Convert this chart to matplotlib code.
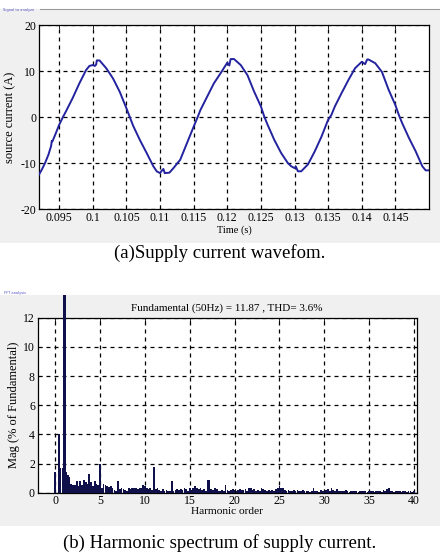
import numpy as np
import matplotlib
matplotlib.use("Agg")
import matplotlib.pyplot as plt
from matplotlib.patches import Rectangle

plt.rcParams["axes.unicode_minus"] = False

# ---------------- data ----------------
# (a) supply current waveform
time_s = [0.0920, 0.0924, 0.0929, 0.0934, 0.0938, 0.0939, 0.0940, 0.0944, 0.0950,
          0.0956, 0.0960, 0.0970, 0.0980, 0.0990, 0.0995, 0.1000, 0.1003, 0.1005,
          0.1006, 0.1010, 0.1020, 0.1030, 0.1040, 0.1050, 0.1055, 0.1060, 0.1070,
          0.1080, 0.1090, 0.1095, 0.1100, 0.1103, 0.1105, 0.1107, 0.1114, 0.1120,
          0.1130, 0.1140, 0.1150, 0.1156, 0.1160, 0.1170, 0.1180, 0.1190, 0.1200,
          0.1203, 0.1205, 0.1210, 0.1220, 0.1230, 0.1240, 0.1250, 0.1255, 0.1260,
          0.1270, 0.1280, 0.1290, 0.1295, 0.1300, 0.1302, 0.1305, 0.1310, 0.1320,
          0.1330, 0.1340, 0.1350, 0.1355, 0.1360, 0.1370, 0.1380, 0.1390, 0.1400,
          0.1405, 0.1408, 0.1410, 0.1420, 0.1430, 0.1440, 0.1450, 0.1455, 0.1460,
          0.1470, 0.1480, 0.1490, 0.1495, 0.1500]
current_a = [-12.5, -11.5, -10.0, -8.2, -6.3, -5.2, -5.3, -3.9, -1.7,
             0.1, 1.2, 4.1, 7.3, 10.2, 11.1, 11.3, 11.1, 11.4,
             12.3, 12.3, 10.6, 8.4, 5.5, 1.9, 0.0, -1.9, -5.0,
             -7.8, -10.7, -11.8, -12.2, -11.6, -11.3, -12.2, -12.1, -11.1,
             -9.3, -5.7, -2.1, 0.0, 1.5, 4.4, 7.3, 9.5, 11.8,
             11.2, 12.6, 12.6, 11.3, 9.1, 5.5, 2.3, 0.1, -1.7,
             -5.0, -7.8, -10.0, -10.7, -11.1, -10.8, -11.8, -11.8, -10.3,
             -7.5, -4.3, -0.6, 0.5, 2.3, 5.2, 8.0, 10.6, 12.0,
             11.5, 12.5, 12.5, 11.7, 9.8, 5.9, 2.6, 0.5, -1.3,
             -4.5, -7.4, -10.7, -11.6, -11.6]
time_ticks = [0.095, 0.1, 0.105, 0.11, 0.115, 0.12, 0.125, 0.13, 0.135, 0.14, 0.145]
time_tick_labels = ["0.095", "0.1", "0.105", "0.11", "0.115", "0.12", "0.125",
                    "0.13", "0.135", "0.14", "0.145"]
current_ticks = [-20, -10, 0, 10, 20]

# (b) harmonic spectrum (% of fundamental), bins every 0.2 harmonic order
bin_step = 0.2
magnitude = [
    1.45, 0.00, 4.05, 1.70, 1.70, 100.0, 1.40, 1.20, 1.10, 0.60,   # 0.0-1.8
    0.50, 0.55, 0.80, 0.45, 0.80, 0.55, 0.90, 0.70, 0.60, 1.25,    # 2.0-3.8
    0.70, 0.45, 0.80, 0.60, 0.55, 1.98, 0.35, 0.60, 0.55, 0.45,    # 4.0-5.8
    0.40, 0.45, 0.30, 0.20, 0.15, 0.80, 0.25, 0.30, 0.25, 0.20,    # 6.0-7.8
    0.15, 0.30, 0.25, 0.30, 0.35, 0.30, 0.25, 0.35, 0.30, 0.55,    # 8.0-9.8
    0.45, 0.30, 0.25, 0.30, 0.20, 1.78, 0.25, 0.30, 0.20, 0.15,    # 10.0-11.8
    0.25, 0.10, 0.20, 0.15, 0.10, 0.80, 0.15, 0.20, 0.25, 0.20,    # 12.0-13.8
    0.25, 0.20, 0.30, 0.25, 0.15, 0.30, 0.20, 0.35, 0.45, 0.30,    # 14.0-15.8
    0.25, 0.30, 0.20, 0.25, 0.15, 0.90, 0.85, 0.25, 0.20, 0.30,    # 16.0-17.8
    0.25, 0.15, 0.10, 0.20, 0.15, 0.55, 0.20, 0.15, 0.20, 0.25,    # 18.0-19.8
    0.20, 0.15, 0.20, 0.25, 0.20, 0.20, 0.25, 0.15, 0.35, 0.30,    # 20.0-21.8
    0.20, 0.25, 0.15, 0.20, 0.10, 0.35, 0.25, 0.20, 0.15, 0.20,    # 22.0-23.8
    0.15, 0.20, 0.15, 0.25, 0.30, 0.45, 0.35, 0.30, 0.20, 0.15,    # 24.0-25.8
    0.20, 0.15, 0.10, 0.20, 0.15, 0.20, 0.10, 0.15, 0.20, 0.10,    # 26.0-27.8
    0.15, 0.10, 0.05, 0.10, 0.35, 0.15, 0.10, 0.05, 0.20, 0.15,    # 28.0-29.8
    0.10, 0.20, 0.25, 0.15, 0.35, 0.20, 0.15, 0.25, 0.10, 0.15,    # 30.0-31.8
    0.15, 0.10, 0.20, 0.10, 0.05, 0.15, 0.10, 0.15, 0.10, 0.05,    # 32.0-33.8
    0.15, 0.10, 0.15, 0.10, 0.05, 0.10, 0.15, 0.10, 0.05, 0.10,    # 34.0-35.8
    0.15, 0.10, 0.05, 0.20, 0.15, 0.25, 0.30, 0.15, 0.10, 0.05,    # 36.0-37.8
    0.10, 0.15, 0.10, 0.05, 0.10, 0.10, 0.05, 0.10, 0.15, 0.05,    # 38.0-39.8
    0.10,                                                          # 40.0
]
harmonic_order = np.arange(len(magnitude)) * bin_step
harmonic_ticks = [0, 5, 10, 15, 20, 25, 30, 35, 40]
mag_ticks = [0, 2, 4, 6, 8, 10, 12]
fft_title = "Fundamental (50Hz) = 11.87 , THD= 3.6%"

# ---------------- figure ----------------
W, H = 440, 552
fig = plt.figure(figsize=(W / 100, H / 100), dpi=100)
fig.patch.set_facecolor("white")
serif = ["Liberation Serif", "DejaVu Serif"]
panel_gray = "#f0f0f0"

def fx(px):
    return px / W

def fy(py):
    return 1 - py / H

# panel backgrounds
top_panel = Rectangle((0, fy(243)), 1, fy(9) - fy(243), transform=fig.transFigure,
                      facecolor=panel_gray, edgecolor="none", zorder=-10)
bot_panel = Rectangle((0, fy(526)), 1, fy(295) - fy(526), transform=fig.transFigure,
                      facecolor=panel_gray, edgecolor="none", zorder=-10)
fig.add_artist(top_panel)
fig.add_artist(bot_panel)
fig.add_artist(plt.Line2D([fx(40), 1], [fy(9), fy(9)], transform=fig.transFigure,
                          color="#9a9a9a", lw=0.8, zorder=-5))
fig.text(fx(3), fy(10), "Signal to analyze", fontsize=2.6, color="#5050c0",
         va="center", ha="left")
fig.text(fx(4), fy(293), "FFT analysis", fontsize=2.6, color="#5050c0",
         va="center", ha="left")

def style_axes(ax):
    ax.set_facecolor("white")
    for s in ax.spines.values():
        s.set_color("black")
        s.set_linewidth(0.9)
    ax.tick_params(direction="in", length=3, width=0.6, top=True, right=True,
                   labelsize=8.5, pad=2, colors="black")
    for lab in ax.get_xticklabels() + ax.get_yticklabels():
        lab.set_family(serif)
    ax.grid(True, color="black", linestyle=(0, (3.2, 3.2)), linewidth=0.9)
    ax.set_axisbelow(True)

# (a) waveform
ax1 = fig.add_axes([fx(39), fy(209), fx(429) - fx(39), fy(25) - fy(209)])
ax1.plot(time_s, current_a, color="#2323a0", linewidth=1.4, zorder=3)
ax1.set_xlim(0.092, 0.150)
ax1.set_ylim(-20, 20)
ax1.set_xticks(time_ticks)
ax1.set_xticklabels(time_tick_labels)
ax1.set_yticks(current_ticks)
style_axes(ax1)
ax1.set_xlabel("Time (s)", fontsize=7.5, family=serif, labelpad=1)
ax1.set_ylabel("source current (A)", fontsize=9, family=serif, labelpad=3)

fig.text(0.5, fy(253), "(a)Supply current wavefom.", fontsize=13.5, family=serif,
         ha="center", va="center")

# (b) spectrum
ax2 = fig.add_axes([fx(37.7), fy(492.7), fx(416.7) - fx(37.7), fy(317.7) - fy(492.7)])
bars = ax2.bar(harmonic_order, magnitude, width=0.19, color="#10104a",
               edgecolor="none", zorder=3)
fund_idx = int(np.argmax(magnitude))
fund_bar = bars[fund_idx]
fund_bar.set_width(0.32)
fund_bar.set_x(harmonic_order[fund_idx] - 0.16)
fund_bar.set_clip_on(True)
fund_bar.set_clip_path(bot_panel)
ax2.set_xlim(-1.95, 40.3)
ax2.set_ylim(0, 12)
ax2.set_xticks(harmonic_ticks)
ax2.set_yticks(mag_ticks)
style_axes(ax2)
ax2.set_title(fft_title, fontsize=8, family=serif, pad=5)
ax2.set_xlabel("Harmonic order", fontsize=8.2, family=serif, labelpad=0)
ax2.set_ylabel("Mag (% of Fundamental)", fontsize=9, family=serif, labelpad=2)

fig.text(0.5, fy(543), "(b) Harmonic spectrum of supply current.", fontsize=13.5,
         family=serif, ha="center", va="center")

fig.savefig("out.png", dpi=100, facecolor="white")
